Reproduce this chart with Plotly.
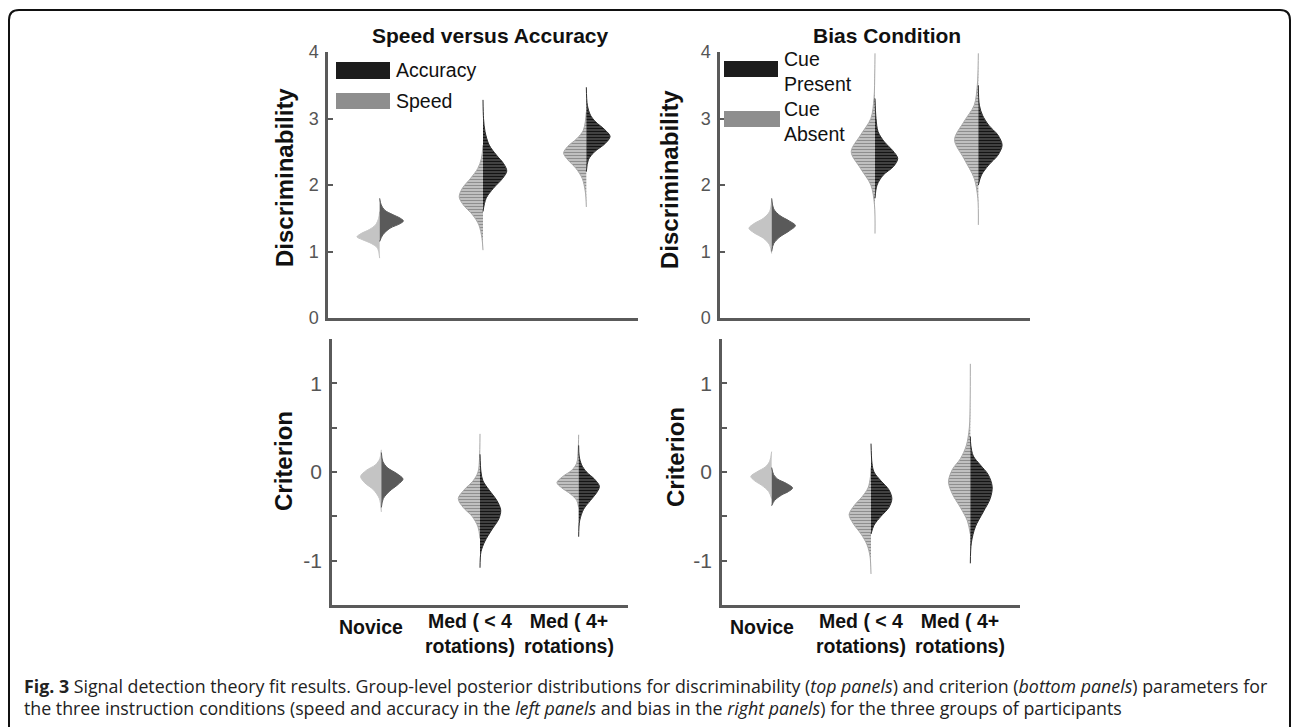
import plotly.graph_objects as go

W, H = 1292, 727

GROUP_LABELS = ["Novice", "Med ( < 4<br>rotations)", "Med ( 4+<br>rotations)"]
GROUP_POS = [1, 2, 3]

# ---- Top-left: Discriminability, Speed (left half) vs Accuracy (right half)
SA_D_SPEED_Y = [[0.90, 1.05, 1.12, 1.18, 1.22, 1.27, 1.33, 1.40, 1.50, 1.60],
                [1.02, 1.20, 1.40, 1.55, 1.70, 1.82, 1.95, 2.10, 2.25, 2.40, 2.60],
                [1.67, 1.90, 2.10, 2.25, 2.38, 2.48, 2.58, 2.70, 2.82, 2.95, 3.10]]
SA_D_SPEED_W = [[0, 0.02, 0.08, 0.17, 0.22, 0.18, 0.10, 0.04, 0.01, 0],
                [0, 0.01, 0.04, 0.10, 0.19, 0.23, 0.20, 0.12, 0.05, 0.015, 0],
                [0, 0.01, 0.04, 0.10, 0.18, 0.22, 0.18, 0.09, 0.03, 0.01, 0]]
SA_D_ACC_Y = [[1.15, 1.25, 1.35, 1.42, 1.46, 1.50, 1.56, 1.62, 1.70, 1.80],
              [1.60, 1.80, 1.95, 2.10, 2.21, 2.32, 2.45, 2.60, 2.80, 3.00, 3.28],
              [2.20, 2.38, 2.50, 2.62, 2.73, 2.83, 2.95, 3.05, 3.20, 3.47]]
SA_D_ACC_W = [[0, 0.03, 0.10, 0.20, 0.23, 0.20, 0.12, 0.05, 0.015, 0],
              [0, 0.03, 0.10, 0.19, 0.23, 0.20, 0.13, 0.06, 0.02, 0.005, 0],
              [0, 0.02, 0.08, 0.18, 0.23, 0.18, 0.09, 0.04, 0.01, 0]]

# ---- Top-right: Discriminability, Cue Absent (left) vs Cue Present (right)
BC_D_ABSENT_Y = [[0.97, 1.10, 1.20, 1.28, 1.35, 1.42, 1.50, 1.60, 1.78],
                 [1.27, 1.70, 2.00, 2.25, 2.50, 2.75, 3.00, 3.30, 3.70, 3.98],
                 [1.40, 1.80, 2.10, 2.40, 2.68, 2.95, 3.20, 3.50, 3.80, 3.98]]
BC_D_ABSENT_W = [[0, 0.02, 0.08, 0.17, 0.22, 0.17, 0.08, 0.02, 0],
                 [0, 0.005, 0.04, 0.14, 0.23, 0.14, 0.04, 0.01, 0.002, 0],
                 [0, 0.005, 0.04, 0.14, 0.23, 0.14, 0.04, 0.01, 0.002, 0]]
BC_D_PRESENT_Y = [[1.00, 1.12, 1.22, 1.31, 1.39, 1.46, 1.54, 1.64, 1.80],
                  [1.80, 2.00, 2.15, 2.28, 2.40, 2.52, 2.65, 2.80, 3.00, 3.30],
                  [2.00, 2.15, 2.30, 2.45, 2.60, 2.75, 2.90, 3.05, 3.20, 3.50]]
BC_D_PRESENT_W = [[0, 0.02, 0.08, 0.17, 0.23, 0.17, 0.08, 0.02, 0],
                  [0, 0.02, 0.08, 0.18, 0.22, 0.17, 0.09, 0.03, 0.01, 0],
                  [0, 0.03, 0.10, 0.19, 0.23, 0.19, 0.10, 0.04, 0.01, 0]]

# ---- Bottom-left: Criterion, Speed (left) vs Accuracy (right)
SA_C_SPEED_Y = [[-0.45, -0.30, -0.20, -0.12, -0.05, 0.02, 0.08, 0.15, 0.25],
                [-0.75, -0.62, -0.50, -0.40, -0.30, -0.20, -0.10, 0.00, 0.15, 0.43],
                [-0.40, -0.32, -0.25, -0.18, -0.12, -0.05, 0.02, 0.10, 0.25, 0.42]]
SA_C_SPEED_W = [[0, 0.02, 0.08, 0.17, 0.21, 0.15, 0.06, 0.015, 0],
                [0, 0.02, 0.08, 0.17, 0.22, 0.16, 0.07, 0.02, 0.005, 0],
                [0, 0.02, 0.08, 0.17, 0.22, 0.16, 0.07, 0.02, 0.005, 0]]
SA_C_ACC_Y = [[-0.40, -0.30, -0.22, -0.14, -0.08, -0.02, 0.05, 0.12, 0.22],
              [-1.08, -0.90, -0.78, -0.65, -0.53, -0.43, -0.32, -0.20, -0.10, 0.00, 0.20],
              [-0.73, -0.55, -0.42, -0.32, -0.22, -0.16, -0.08, 0.00, 0.08, 0.18, 0.30]]
SA_C_ACC_W = [[0, 0.02, 0.08, 0.17, 0.22, 0.16, 0.06, 0.015, 0],
              [0, 0.01, 0.05, 0.12, 0.19, 0.21, 0.17, 0.09, 0.03, 0.01, 0],
              [0, 0.01, 0.05, 0.12, 0.19, 0.21, 0.16, 0.08, 0.03, 0.005, 0]]

# ---- Bottom-right: Criterion, Cue Absent (left) vs Cue Present (right)
BC_C_ABSENT_Y = [[-0.30, -0.22, -0.15, -0.10, -0.05, 0.00, 0.06, 0.12, 0.23],
                 [-1.15, -0.95, -0.82, -0.70, -0.58, -0.48, -0.38, -0.28, -0.18, -0.05, 0.05],
                 [-0.70, -0.55, -0.40, -0.25, -0.11, 0.03, 0.15, 0.30, 0.50, 0.80, 1.22]]
BC_C_ABSENT_W = [[0, 0.03, 0.10, 0.17, 0.21, 0.15, 0.06, 0.02, 0],
                 [0, 0.01, 0.04, 0.10, 0.18, 0.22, 0.17, 0.09, 0.03, 0.005, 0],
                 [0, 0.03, 0.10, 0.18, 0.22, 0.18, 0.10, 0.04, 0.01, 0.002, 0]]
BC_C_PRESENT_Y = [[-0.38, -0.32, -0.26, -0.22, -0.18, -0.13, -0.08, -0.03, 0.05],
                  [-0.70, -0.60, -0.50, -0.40, -0.30, -0.20, -0.10, 0.00, 0.10, 0.32],
                  [-1.03, -0.80, -0.62, -0.45, -0.30, -0.165, -0.03, 0.08, 0.18, 0.30, 0.40]]
BC_C_PRESENT_W = [[0, 0.03, 0.10, 0.17, 0.21, 0.15, 0.06, 0.02, 0],
                  [0, 0.03, 0.10, 0.18, 0.21, 0.18, 0.10, 0.03, 0.01, 0],
                  [0, 0.01, 0.05, 0.13, 0.20, 0.22, 0.18, 0.10, 0.03, 0.005, 0]]

D_TICKS = [0, 1, 2, 3, 4]
C_TICKS = [-1.5, -1, -0.5, 0, 0.5, 1, 1.5]
C_TICKTEXT = ["", "-1", "", "0", "", "1", ""]

AXIS_COLOR = "#5a5a5a"
FONT = "Liberation Sans, Arial, Helvetica, sans-serif"


def px(x):
    return x / W


def py(y):
    return 1 - y / H


fig = go.Figure()


def add_half(xa, ya, pos, ys, ws, side, dark, novice):
    sign = 1 if side == "right" else -1
    xs = [pos + sign * w for w in ws]
    if novice:
        col = "#5a5a5a" if dark else "#c4c4c4"
        pattern = None
    else:
        col = "#2e2e2e" if dark else "#a9a9a9"
        if dark:
            pattern = dict(shape="-", bgcolor="#4a4a4a", fgcolor="#141414",
                           size=3, solidity=0.45, fillmode="replace")
        else:
            pattern = dict(shape="-", bgcolor="#c6c6c6", fgcolor="#8e8e8e",
                           size=3, solidity=0.4, fillmode="replace")
    kw = dict(x=xs, y=ys, mode="lines", fill="toself", fillcolor=col,
              line=dict(color=col, width=1, shape="spline", smoothing=0.9),
              xaxis=xa, yaxis=ya, hoverinfo="skip", showlegend=False)
    if pattern:
        kw["fillpattern"] = pattern
    fig.add_trace(go.Scatter(**kw))


panels = [
    ("x", "y", SA_D_SPEED_Y, SA_D_SPEED_W, SA_D_ACC_Y, SA_D_ACC_W),
    ("x2", "y2", BC_D_ABSENT_Y, BC_D_ABSENT_W, BC_D_PRESENT_Y, BC_D_PRESENT_W),
    ("x3", "y3", SA_C_SPEED_Y, SA_C_SPEED_W, SA_C_ACC_Y, SA_C_ACC_W),
    ("x4", "y4", BC_C_ABSENT_Y, BC_C_ABSENT_W, BC_C_PRESENT_Y, BC_C_PRESENT_W),
]
for xa, ya, ly, lw, ry, rw in panels:
    for i, pos in enumerate(GROUP_POS):
        add_half(xa, ya, pos, ly[i], lw[i], "left", False, i == 0)
        add_half(xa, ya, pos, ry[i], rw[i], "right", True, i == 0)


def xaxis(dom, anchor):
    return dict(domain=dom, anchor=anchor, range=[0.5, 3.5], showline=True,
                linecolor=AXIS_COLOR, linewidth=2.5, showgrid=False,
                zeroline=False, showticklabels=False, ticks="", fixedrange=True,
                automargin=False)


def yaxis(dom, anchor, rng, tickvals, ticktext, size):
    return dict(domain=dom, anchor=anchor, range=rng, showline=True,
                linecolor=AXIS_COLOR, linewidth=2.5, showgrid=False,
                zeroline=False, ticks="inside", ticklen=5, tickwidth=2,
                tickcolor=AXIS_COLOR, tickvals=tickvals, ticktext=ticktext,
                tickfont=dict(family=FONT, size=size, color="#555555"),
                ticklabelstandoff=3, fixedrange=True, automargin=False)


top_dom = [py(318), py(52)]
bot_dom = [py(605), py(339)]
fig.update_layout(
    xaxis=xaxis([px(328), px(638)], "y"),
    yaxis=yaxis(top_dom, "x", [0, 4], D_TICKS, [str(t) for t in D_TICKS], 18),
    xaxis2=xaxis([px(720), px(1030)], "y2"),
    yaxis2=yaxis(top_dom, "x2", [0, 4], D_TICKS, [str(t) for t in D_TICKS], 18),
    xaxis3=xaxis([px(332), px(628)], "y3"),
    yaxis3=yaxis(bot_dom, "x3", [-1.5, 1.5], C_TICKS, C_TICKTEXT, 21),
    xaxis4=xaxis([px(722), px(1020)], "y4"),
    yaxis4=yaxis(bot_dom, "x4", [-1.5, 1.5], C_TICKS, C_TICKTEXT, 21),
)


def note(text, x, y, font, xanchor="center", yanchor="middle", **extra):
    d = dict(text=text, x=px(x), y=py(y), xref="paper", yref="paper",
             xanchor=xanchor, yanchor=yanchor, showarrow=False, font=font)
    d.update(extra)
    return d


ann = []
TITLE_FONT = dict(family=FONT, size=21, color="#111")
ann.append(note("<b>Speed versus Accuracy</b>", 490, 35, TITLE_FONT))
ann.append(note("<b>Bias Condition</b>", 887, 35, TITLE_FONT))
YT_FONT = dict(family=FONT, size=24, color="#111")
for t, x, y in [("Discriminability", 284, 178), ("Discriminability", 670, 180),
                ("Criterion", 284, 461), ("Criterion", 675, 457)]:
    ann.append(note("<b>%s</b>" % t, x, y, YT_FONT, textangle=-90))
# x category labels under bottom panels
for xa in ["x3", "x4"]:
    for lab, pos in zip(GROUP_LABELS, GROUP_POS):
        single = "<br>" not in lab
        ann.append(dict(text="<b>%s</b>" % lab, x=pos, xref=xa, xshift=-10,
                        y=py(614 if single else 608),
                        yref="paper", yanchor="top", xanchor="center", align="center",
                        showarrow=False, font=dict(family=FONT, size=19.5, color="#111")))
# legends
LEG_FONT = dict(family=FONT, size=19.5, color="#111")
ann.append(note("Accuracy", 394, 70, LEG_FONT, xanchor="left"))
ann.append(note("Speed", 394, 101, LEG_FONT, xanchor="left"))
ann.append(note("Cue<br>Present", 782, 71, LEG_FONT, xanchor="left", align="left"))
ann.append(note("Cue<br>Absent", 782, 122, LEG_FONT, xanchor="left", align="left"))
# caption
CAP_FONT = dict(family="Open Sans, Noto Sans, sans-serif", size=17.8, color="#222")
ann.append(note("<b>Fig. 3</b> Signal detection theory fit results. Group-level posterior distributions for "
                "discriminability (<i>top panels</i>) and criterion (<i>bottom panels</i>) parameters for",
                22, 686, CAP_FONT, xanchor="left"))
ann.append(note("the three instruction conditions (speed and accuracy in the <i>left panels</i> and bias in the "
                "<i>right panels</i>) for the three groups of participants",
                22, 708, CAP_FONT, xanchor="left"))

shapes = []
# legend swatches
for (x0, y0, x1, y1, c) in [(336, 62, 390, 79, "#1c1c1c"), (336, 93, 390, 109, "#8e8e8e"),
                            (724, 61, 778, 77, "#1c1c1c"), (724, 111, 780, 127, "#8e8e8e")]:
    shapes.append(dict(type="rect", xref="paper", yref="paper", x0=px(x0), x1=px(x1),
                       y0=py(y0), y1=py(y1), fillcolor=c, line=dict(width=0)))
# rounded outer border
r = 10
path = ("M %f %f L %f %f Q %f %f %f %f L %f %f Q %f %f %f %f L %f %f" % (
    px(9), py(740), px(9), py(10 + r), px(9), py(10), px(9 + r), py(10),
    px(1290 - r), py(10), px(1290), py(10), px(1290), py(10 + r), px(1290), py(740)))
shapes.append(dict(type="path", xref="paper", yref="paper", path=path,
                   line=dict(color="#111", width=2)))

fig.update_layout(width=W, height=H, margin=dict(l=0, r=0, t=0, b=0, autoexpand=False),
                  paper_bgcolor="white", plot_bgcolor="white",
                  annotations=ann, shapes=shapes, showlegend=False)

fig.write_html("out.html")
